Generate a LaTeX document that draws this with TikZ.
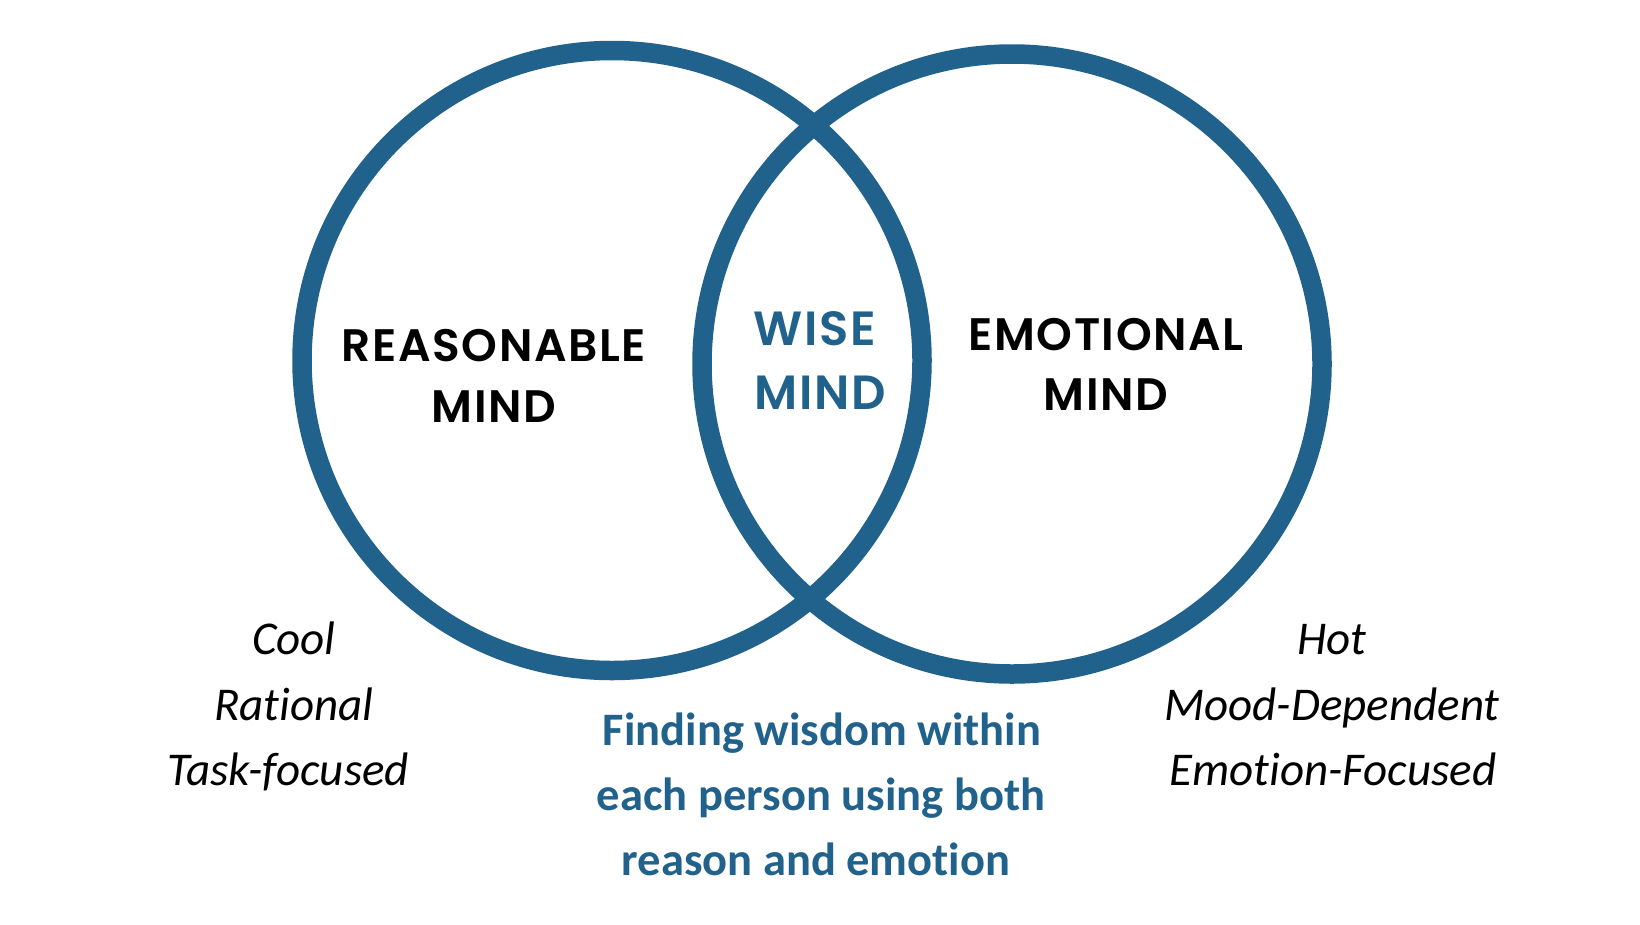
\documentclass[tikz,border=0pt]{standalone}
\usepackage{fontspec}
\newfontfamily\popfont{Poppins SemiBold}[LetterSpace=3.5]
\newfontfamily\carfont{Carlito}[Ligatures=NoCommon]
\definecolor{wiseblue}{RGB}{33,98,140}
\tikzset{
  ring/.style={circle, draw=wiseblue, line width=19.5pt, minimum size=620pt, inner sep=0pt},
  mindlabel/.style={font=\popfont\fontsize{45.5}{52}\selectfont, text=black, anchor=base, inner sep=0pt},
  wiselabel/.style={font=\popfont\fontsize{48}{56}\selectfont, text=wiseblue, anchor=base, inner sep=0pt},
  traitlabel/.style={font=\carfont\fontsize{47}{56}\selectfont\itshape, text=black, anchor=base, inner sep=0pt},
  notelabel/.style={font=\carfont\fontsize{46.5}{56}\selectfont\bfseries, text=wiseblue, anchor=base, inner sep=0pt}
}
\begin{document}
\begin{tikzpicture}[x=1pt,y=-1pt]
\useasboundingbox[fill=white] (0,0) rectangle (1640,924);
\node[ring] (left) at (612,360.5) {};
\node[ring] (right) at (1012,364) {};
\node[mindlabel] (r1) at (494,361) {REASONABLE};
\node[mindlabel] (r2) at (494,422) {MIND};
\node[wiselabel] (w1) at (815,345) {WISE};
\node[wiselabel] (w2) at (820,409) {MIND};
\node[mindlabel] (e1) at (1106,350) {EMOTIONAL};
\node[mindlabel] (e2) at (1106,410) {MIND};
\node[traitlabel] (c1) at (294,654) {Cool};
\node[traitlabel] (c2) at (294,720) {Rational};
\node[traitlabel] (c3) at (288,785) {Task-focused};
\node[traitlabel] (h1) at (1332,654) {Hot};
\node[traitlabel] (h2) at (1332,720) {Mood-Dependent};
\node[traitlabel] (h3) at (1333,785) {Emotion-Focused};
\node[notelabel] (n1) at (822,745) {Finding wisdom within};
\node[notelabel] (n2) at (821,810) {each person using both};
\node[notelabel] (n3) at (816,875) {reason and emotion};
\end{tikzpicture}
\end{document}
